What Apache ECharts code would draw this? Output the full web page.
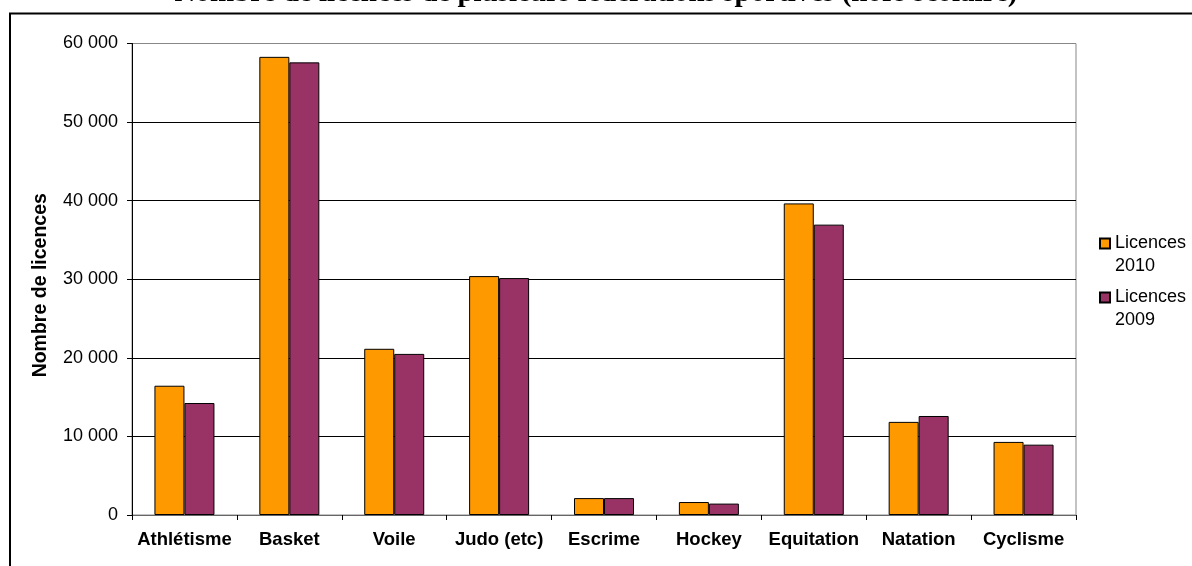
<!DOCTYPE html>
<html>
<head>
<meta charset="utf-8">
<script src="https://cdn.jsdelivr.net/npm/echarts@6/dist/echarts.min.js"></script>
<style>
  html, body { margin: 0; padding: 0; background: #fff; }
  #chart { width: 1192px; height: 566px; }
</style>
</head>
<body>
<div id="chart"></div>
<script>
const titleText = 'Nombre de licences de plusieurs fédérations sportives (hors scolaire)';
const categories = ['Athlétisme', 'Basket', 'Voile', 'Judo (etc)', 'Escrime', 'Hockey', 'Equitation', 'Natation', 'Cyclisme'];
const seriesNames = ['Licences 2010', 'Licences 2009'];
const licences2010 = [16450, 58300, 21150, 30400, 2150, 1650, 39650, 11850, 9300];
const licences2009 = [14250, 57600, 20500, 30150, 2150, 1450, 36950, 12600, 8950];
const yMin = 0, yMax = 60000, yInterval = 10000;

const FONT = "'Liberation Sans', Arial, sans-serif";
const chart = echarts.init(document.getElementById('chart'), null, { renderer: 'canvas' });

function fmtThousands(v) {
  return String(v).replace(/\B(?=(\d{3})+(?!\d))/g, ' ');
}

chart.setOption({
  animation: false,
  backgroundColor: '#ffffff',
  title: {
    text: titleText,
    left: 'center',
    top: -26,
    textStyle: { fontFamily: "'Liberation Serif', 'Times New Roman', serif", fontWeight: 'bold', fontSize: 29, color: '#000' }
  },
  graphic: [{
    type: 'rect',
    silent: true,
    z: 100,
    shape: { x: 10, y: 13.5, width: 1400, height: 800 },
    style: { fill: 'none', stroke: '#000', lineWidth: 2 }
  }],
  legend: {
    orient: 'vertical',
    left: 1094,
    top: 204,
    itemWidth: 10,
    itemHeight: 10,
    itemGap: -15,
    icon: 'rect',
    data: seriesNames,
    formatter: function (name) { return '\n' + name.replace(' ', '\n'); },
    textStyle: { fontFamily: FONT, fontSize: 18, color: '#000', lineHeight: 23 }
  },
  grid: {
    left: 132, right: 116, top: 43.5, bottom: 51,
    show: true, borderColor: '#888', borderWidth: 1, backgroundColor: 'transparent'
  },
  xAxis: {
    type: 'category',
    data: categories,
    boundaryGap: true,
    axisLine: { lineStyle: { color: '#666', width: 1 } },
    axisTick: { show: true, alignWithLabel: false, length: 5, lineStyle: { color: '#000' } },
    axisLabel: { fontFamily: FONT, fontSize: 18.5, fontWeight: 'bold', color: '#000', margin: 15, interval: 0 },
    splitLine: { show: false }
  },
  yAxis: {
    type: 'value',
    min: yMin, max: yMax, interval: yInterval,
    name: 'Nombre de licences',
    nameLocation: 'middle',
    nameGap: 81,
    nameTextStyle: { fontFamily: FONT, fontSize: 19.5, fontWeight: 'bold', color: '#000', padding: [0, 12, 0, 0] },
    axisLine: { show: true, lineStyle: { color: '#000', width: 1 } },
    axisTick: { show: true, length: 5, lineStyle: { color: '#000' } },
    axisLabel: { fontFamily: FONT, fontSize: 18, color: '#000', margin: 14, formatter: fmtThousands },
    splitLine: { show: true, lineStyle: { color: ['#888', '#000', '#000', '#000', '#000', '#000', '#888'], width: 1 } }
  },
  series: [
    {
      name: seriesNames[0], type: 'bar', data: licences2010,
      barWidth: 30, barGap: '0%',
      itemStyle: { color: '#FF9900', borderColor: '#000', borderWidth: 1 }
    },
    {
      name: seriesNames[1], type: 'bar', data: licences2009,
      barWidth: 30, barGap: '0%',
      itemStyle: { color: '#993366', borderColor: '#000', borderWidth: 1 }
    }
  ]
});
</script>
</body>
</html>
